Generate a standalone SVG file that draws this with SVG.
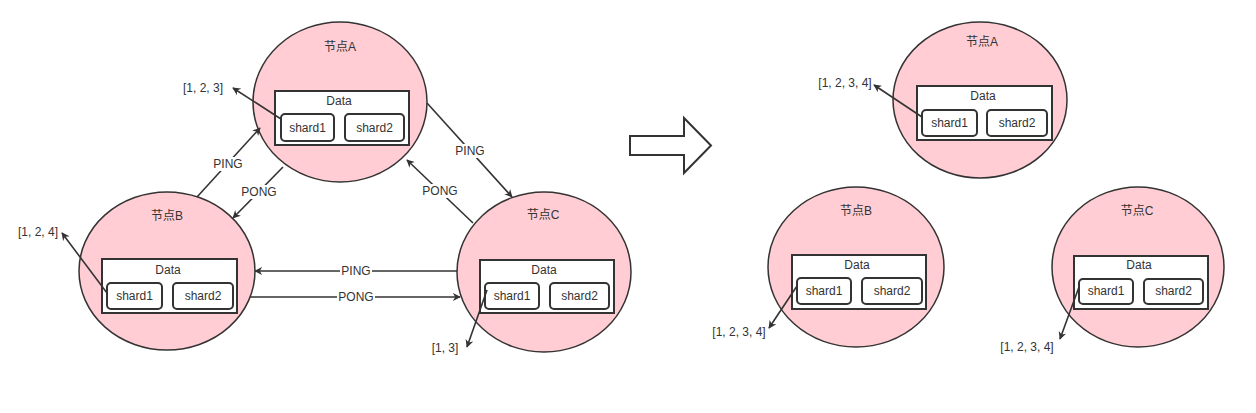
<svg xmlns="http://www.w3.org/2000/svg" width="1256" height="413" viewBox="0 0 1256 413">
<style>
text{font-family:"Liberation Sans","Noto Sans CJK SC",sans-serif;font-size:12px;fill:#333;text-anchor:middle;dominant-baseline:central}
.node{fill:#ffcdd3;stroke:#333;stroke-width:1.5}
.box{fill:#fff;stroke:#333;stroke-width:2}
.shard{fill:#fff;stroke:#333;stroke-width:2}
.edge{fill:none;stroke:#333;stroke-width:1.6;marker-end:url(#ah)}
.lbl{fill:#fff}
</style>
<defs>
<marker id="ah" viewBox="0 0 10 10" refX="9" refY="5" markerWidth="8" markerHeight="8" markerUnits="userSpaceOnUse" orient="auto">
<path d="M0,0 L10,5 L0,10 L3,5 Z" fill="#333"/>
</marker>
</defs>
<rect width="1256" height="413" fill="#fff"/>

<g id="nodeA">
<ellipse class="node" cx="340" cy="102" rx="87" ry="80"/>
<text x="340" y="47">节点A</text>
<rect class="box" x="275" y="91" width="134" height="54"/>
<text x="339" y="101">Data</text>
<rect class="shard" x="281" y="114" width="53" height="27" rx="4"/>
<text x="307.5" y="128">shard1</text>
<rect class="shard" x="345" y="114" width="59" height="27" rx="4"/>
<text x="374.5" y="128">shard2</text>
</g>

<g id="nodeB">
<ellipse class="node" cx="167" cy="271" rx="88" ry="79"/>
<text x="167" y="216">节点B</text>
<rect class="box" x="102" y="259" width="135" height="54"/>
<text x="168" y="270">Data</text>
<rect class="shard" x="107" y="283" width="55" height="26" rx="4"/>
<text x="134.5" y="296">shard1</text>
<rect class="shard" x="173" y="283" width="60" height="26" rx="4"/>
<text x="203" y="296">shard2</text>
</g>

<g id="nodeC">
<ellipse class="node" cx="544" cy="272" rx="87" ry="80"/>
<text x="543" y="215">节点C</text>
<rect class="box" x="480" y="260" width="134" height="53"/>
<text x="544" y="270">Data</text>
<rect class="shard" x="485" y="283" width="54" height="26" rx="4"/>
<text x="512" y="296">shard1</text>
<rect class="shard" x="550" y="283" width="59" height="26" rx="4"/>
<text x="579.5" y="296">shard2</text>
</g>

<g id="bigArrow">
<polygon points="630,136 684,136 684,118 711,145.5 684,173 684,155 630,155" fill="#fff" stroke="#333" stroke-width="2"/>
</g>

<g id="nodeA2">
<ellipse class="node" cx="980" cy="100" rx="87" ry="78"/>
<text x="982" y="42">节点A</text>
<rect class="box" x="917" y="86" width="135" height="54"/>
<text x="983" y="96">Data</text>
<rect class="shard" x="922" y="110" width="55" height="26" rx="4"/>
<text x="949.5" y="123">shard1</text>
<rect class="shard" x="987" y="110" width="60" height="26" rx="4"/>
<text x="1017" y="123">shard2</text>
</g>

<g id="nodeB2">
<ellipse class="node" cx="856" cy="267" rx="88" ry="80"/>
<text x="856" y="211">节点B</text>
<rect class="box" x="792" y="255" width="134" height="54"/>
<text x="857" y="265">Data</text>
<rect class="shard" x="797" y="278" width="54" height="26" rx="4"/>
<text x="824" y="291">shard1</text>
<rect class="shard" x="862" y="278" width="60" height="26" rx="4"/>
<text x="892" y="291">shard2</text>
</g>

<g id="nodeC2">
<ellipse class="node" cx="1138" cy="267" rx="86" ry="80"/>
<text x="1137" y="211">节点C</text>
<rect class="box" x="1074" y="256" width="134" height="53"/>
<text x="1139" y="265">Data</text>
<rect class="shard" x="1079" y="279" width="54" height="25" rx="4"/>
<text x="1106" y="291">shard1</text>
<rect class="shard" x="1144" y="279" width="59" height="25" rx="4"/>
<text x="1173.5" y="291">shard2</text>
</g>

<g id="connectors">
<line class="edge" x1="281" y1="119" x2="233" y2="88"/>
<line class="edge" x1="107" y1="293" x2="62" y2="233"/>
<line class="edge" x1="487" y1="290" x2="467" y2="347"/>
<line class="edge" x1="197" y1="197" x2="260" y2="128"/>
<line class="edge" x1="283" y1="167" x2="233" y2="218"/>
<line class="edge" x1="427" y1="103" x2="512" y2="197"/>
<line class="edge" x1="473" y1="223" x2="407" y2="160"/>
<line class="edge" x1="457" y1="271" x2="255" y2="271"/>
<line class="edge" x1="250" y1="297" x2="460" y2="297"/>
<line class="edge" x1="922" y1="117" x2="874" y2="85"/>
<line class="edge" x1="797" y1="286" x2="769" y2="328"/>
<line class="edge" x1="1079" y1="287" x2="1060" y2="339"/>
<rect class="lbl" x="212" y="157" width="32" height="14"/>
<text x="228" y="164">PING</text>
<rect class="lbl" x="240" y="185" width="38" height="14"/>
<text x="259" y="192">PONG</text>
<rect class="lbl" x="454" y="144" width="32" height="14"/>
<text x="470" y="151">PING</text>
<rect class="lbl" x="421" y="184" width="38" height="14"/>
<text x="440" y="191">PONG</text>
<rect class="lbl" x="340" y="264" width="32" height="14"/>
<text x="356" y="271">PING</text>
<rect class="lbl" x="337" y="290" width="38" height="14"/>
<text x="356" y="297">PONG</text>
<text x="203" y="88">[1, 2, 3]</text>
<text x="38" y="232">[1, 2, 4]</text>
<text x="445" y="348">[1, 3]</text>
<text x="845" y="83">[1, 2, 3, 4]</text>
<text x="739" y="332">[1, 2, 3, 4]</text>
<text x="1027" y="347">[1, 2, 3, 4]</text>
</g>
</svg>
